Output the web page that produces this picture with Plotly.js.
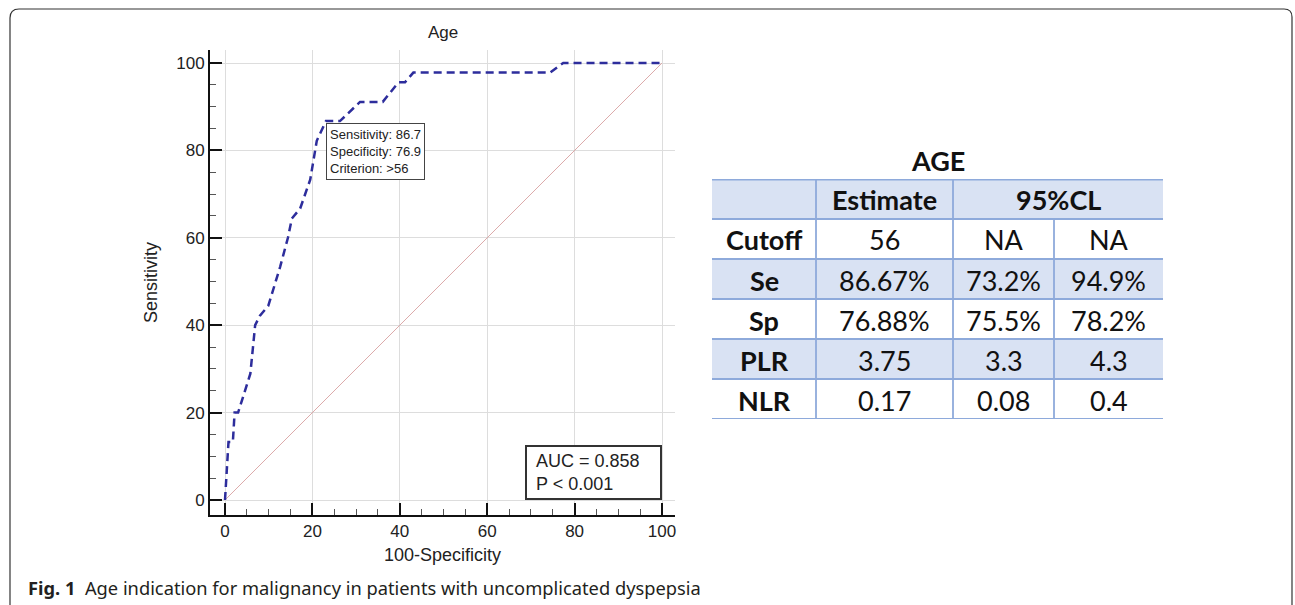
<!DOCTYPE html>
<html>
<head>
<meta charset="utf-8">
<script src="https://cdn.plot.ly/plotly-3.0.1.min.js"></script>
<style>html,body{margin:0;padding:0;background:#fff;}#chart{width:1295px;height:605px;}</style>
</head>
<body>
<div id="chart"></div>
<script>
// ---- ROC data (100-Specificity, Sensitivity) ----
const fpr = [0, 0.8, 1.8, 2.2, 3.0, 5.0, 5.8, 6.9, 8.0, 9.9, 12.6, 14.4, 15.3, 17.2, 19.5, 21.0, 23.1, 26.3, 30.9, 36.1, 39.7, 41.2, 43.1, 74.4, 77.4, 100];
const tpr = [0, 13.3, 13.3, 20.0, 20.0, 26.7, 28.9, 40.0, 42.2, 44.4, 53.3, 60.0, 64.4, 66.7, 73.3, 82.2, 86.7, 86.7, 91.1, 91.1, 95.6, 95.6, 97.8, 97.8, 100, 100];
const diagX = [0, 100];
const diagY = [0, 100];
const cutPoint = {fpr: 23.1, tpr: 86.7};
const cutText = ['Sensitivity: 86.7', 'Specificity: 76.9', 'Criterion: >56'];
const aucText = ['AUC = 0.858', 'P < 0.001'];
const tickVals = [0, 20, 40, 60, 80, 100];

// ---- Table data ----
const tableTitle = 'AGE';
const headerLabels = ['', 'Estimate', '95%CL'];
const rowLabels = ['Cutoff', 'Se', 'Sp', 'PLR', 'NLR'];
const estimate = ['56', '86.67%', '76.88%', '3.75', '0.17'];
const ciLower = ['NA', '73.2%', '75.5%', '3.3', '0.08'];
const ciUpper = ['NA', '94.9%', '78.2%', '4.3', '0.4'];
const caption = ['Fig. 1', 'Age indication for malignancy in patients with uncomplicated dyspepsia'];

// ---- style constants ----
const W = 1295, H = 605;
const colEdges = [0, 104, 241, 342, 451];
const shadeFill = '#d9e2f3', tblLine = '#8eaadb';
const tblFont = 'Lato, "Noto Sans", sans-serif';
const arial = '"Liberation Sans", Arial, sans-serif';
const px = v => v / W, py = v => 1 - v / H;

const traces = [
  {x: diagX, y: diagY, mode: 'lines', line: {color: '#dcaaaa', width: 1}, hoverinfo: 'skip', showlegend: false},
  {x: fpr, y: tpr, mode: 'lines', line: {color: '#2d2d9c', width: 2.5, dash: '8px,5px'}, showlegend: false}
];

const shapes = [];
const annotations = [];

// ROC text boxes
annotations.push({xref: 'x', yref: 'y', x: cutPoint.fpr, y: cutPoint.tpr, xanchor: 'left', yanchor: 'top', yshift: -2,
  text: cutText.join('<br>'), showarrow: false, align: 'left', bgcolor: '#fff', bordercolor: '#444', borderwidth: 1,
  borderpad: 3, font: {family: arial, size: 13, color: '#222'}});
annotations.push({xref: 'x', yref: 'y', x: 100, y: 0, xanchor: 'right', yanchor: 'bottom',
  text: aucText.map(t => '&nbsp;' + t).join('<br>'), showarrow: false, align: 'left', bgcolor: '#fff', bordercolor: '#333', borderwidth: 2,
  borderpad: 4, width: 125, height: 43, font: {family: arial, size: 18, color: '#222'}});

// Table
const nRows = rowLabels.length + 1;
[0, 2, 4].forEach(r => shapes.push({type: 'rect', xref: 'x2', yref: 'y2', x0: colEdges[0], x1: colEdges[4], y0: r, y1: r + 1, fillcolor: shadeFill, line: {width: 0}, layer: 'below'}));
for (let r = 1; r <= nRows; r++) shapes.push({type: 'line', xref: 'x2', yref: 'y2', x0: colEdges[0], x1: colEdges[4], y0: r, y1: r, line: {color: tblLine, width: 1.8}});
shapes.push({type: 'line', xref: 'x2', yref: 'y2', x0: colEdges[0], x1: colEdges[4], y0: 0, y1: 0, line: {color: tblLine, width: 3}});
[1, 2].forEach(c => shapes.push({type: 'line', xref: 'x2', yref: 'y2', x0: colEdges[c], x1: colEdges[c], y0: 0, y1: nRows, line: {color: tblLine, width: 1.8}}));
shapes.push({type: 'line', xref: 'x2', yref: 'y2', x0: colEdges[3], x1: colEdges[3], y0: 1, y1: nRows, line: {color: tblLine, width: 1.8}});

const mid = c => (colEdges[c] + colEdges[c + 1]) / 2;
const cellAnn = (x, y, t, bold) => annotations.push({xref: 'x2', yref: 'y2', x: x, y: y, text: bold ? '<b>' + t + '</b>' : t,
  showarrow: false, xanchor: 'center', yanchor: 'middle', yshift: -1, font: {family: tblFont, size: 27, color: '#111'}});
cellAnn(mid(1), 0.5, headerLabels[1], true);
cellAnn((colEdges[2] + colEdges[4]) / 2, 0.5, headerLabels[2], true);
rowLabels.forEach((lab, i) => {
  cellAnn(mid(0), i + 1.5, lab, true);
  cellAnn(mid(1), i + 1.5, estimate[i], false);
  cellAnn(mid(2), i + 1.5, ciLower[i], false);
  cellAnn(mid(3), i + 1.5, ciUpper[i], false);
});
annotations.push({xref: 'paper', yref: 'paper', x: px(938), y: py(161), xanchor: 'center', yanchor: 'middle', showarrow: false,
  text: '<b>' + tableTitle + '</b>', font: {family: tblFont, size: 27, color: '#111'}});

// caption
annotations.push({xref: 'paper', yref: 'paper', x: px(26), y: py(587), xanchor: 'left', yanchor: 'middle', showarrow: false,
  text: '<b>' + caption[0] + '</b>  ' + caption[1], font: {family: '"Noto Sans", sans-serif', size: 18.3, color: '#231f20'}});

// outer rounded frame
const fr = (x, y) => px(x).toFixed(5) + ',' + py(y).toFixed(5);
shapes.push({type: 'path', xref: 'paper', yref: 'paper',
  path: 'M' + fr(10, 606) + ' L' + fr(10, 18) + ' Q' + fr(10, 9) + ' ' + fr(19, 9) + ' L' + fr(1284, 9) + ' Q' + fr(1292, 9) + ' ' + fr(1292, 17) + ' L' + fr(1292, 606),
  line: {color: '#333', width: 1.2}});

const k = 437 / 100;
const axCommon = {
  tickvals: tickVals, ticks: 'inside', ticklen: 12, tickwidth: 2, tickcolor: '#111',
  showline: true, linewidth: 2, linecolor: '#111', zeroline: false,
  showgrid: true, gridcolor: '#dddddd', gridwidth: 1,
  minor: {dtick: 5, tick0: 0, ticks: 'inside', ticklen: 6, tickwidth: 1, tickcolor: '#555', showgrid: false},
  tickfont: {family: arial, size: 17, color: '#222'}, fixedrange: true
};

const layout = {
  width: W, height: H, margin: {l: 0, r: 0, t: 0, b: 0},
  paper_bgcolor: '#fff', plot_bgcolor: '#fff',
  title: {text: 'Age', x: px(443), xanchor: 'center', y: py(32), yanchor: 'middle', yref: 'container',
    font: {family: arial, size: 17, color: '#222'}},
  xaxis: Object.assign({}, axCommon, {domain: [px(210), px(675)], range: [-15 / k, 450 / k],
    title: {text: '100-Specificity', standoff: 8, font: {family: arial, size: 18, color: '#222'}}}),
  yaxis: Object.assign({}, axCommon, {domain: [1 - 515 / H, 1 - 50 / H], range: [-15 / k, 450 / k],
    title: {text: 'Sensitivity', standoff: 14, font: {family: arial, size: 18, color: '#222'}}}),
  xaxis2: {domain: [px(712), px(1163)], range: [0, 451], anchor: 'y2', visible: false, fixedrange: true},
  yaxis2: {domain: [1 - 419 / H, 1 - 179 / H], range: [nRows, 0], anchor: 'x2', visible: false, fixedrange: true},
  shapes: shapes, annotations: annotations, showlegend: false
};

Plotly.newPlot('chart', traces, layout, {displayModeBar: false, staticPlot: true});
</script>
</body>
</html>
